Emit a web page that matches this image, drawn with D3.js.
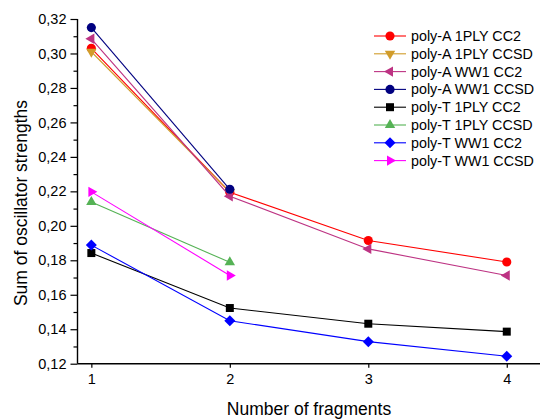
<!DOCTYPE html>
<html>
<head>
<meta charset="utf-8">
<script src="https://cdn.jsdelivr.net/npm/d3@7"></script>
<style>
  body { margin: 0; background: #fff; }
  svg { display: block; font-family: "Liberation Sans", Arial, sans-serif; }
</style>
</head>
<body>
<svg id="chart" width="543" height="419"></svg>
<script>
// Number of fragments on the x axis
const fragments = [1, 2, 3, 4];

// Series names, in drawing / legend order
const seriesNames = [
  "poly-A 1PLY CC2", "poly-A 1PLY CCSD", "poly-A WW1 CC2", "poly-A WW1 CCSD",
  "poly-T 1PLY CC2", "poly-T 1PLY CCSD", "poly-T WW1 CC2", "poly-T WW1 CCSD"
];

// Sum of oscillator strengths per series (one value per fragment count)
const polyA1plyCC2   = [0.303, 0.2195, 0.1915, 0.179];
const polyA1plyCCSD  = [0.301, 0.2195];
const polyAww1CC2    = [0.3085, 0.2172, 0.1866, 0.1712];
const polyAww1CCSD   = [0.315, 0.2212];
const polyT1plyCC2   = [0.1842, 0.1523, 0.1432, 0.1386];
const polyT1plyCCSD  = [0.2138, 0.1788];
const polyTww1CC2    = [0.1888, 0.1449, 0.1328, 0.1243];
const polyTww1CCSD   = [0.2197, 0.1712];

const seriesValues = [polyA1plyCC2, polyA1plyCCSD, polyAww1CC2, polyAww1CCSD,
                      polyT1plyCC2, polyT1plyCCSD, polyTww1CC2, polyTww1CCSD];

// Tick values and labels
const yTicks = [0.12, 0.14, 0.16, 0.18, 0.20, 0.22, 0.24, 0.26, 0.28, 0.30, 0.32];
const yTickLabels = ["0,12", "0,14", "0,16", "0,18", "0,20", "0,22", "0,24", "0,26", "0,28", "0,30", "0,32"];
const yMinorTicks = [0.13, 0.15, 0.17, 0.19, 0.21, 0.23, 0.25, 0.27, 0.29, 0.31];
const xTicks = [1, 2, 3, 4];

// Styling per series
const colors = ["#ff0000", "#d19c2a", "#bd3383", "#000080", "#000000", "#55b255", "#0000ff", "#ff00ff"];
const shapes = ["circle", "down", "left", "circle", "square", "up", "diamond", "right"];

const svg = d3.select("#chart");

const x = d3.scaleLinear().domain([0.9, 4.24]).range([77.5, 540]);
const y = d3.scaleLinear().domain([0.12, 0.32]).range([363.7, 19]);

// Marker path generator
function markerPath(shape) {
  const tri = (angleDeg) => {
    const r = 6;
    const pts = [0, 120, 240].map(a => {
      const t = (a + angleDeg - 90) * Math.PI / 180;
      return [r * Math.cos(t), r * Math.sin(t)];
    });
    return "M" + pts.map(p => p[0].toFixed(2) + "," + p[1].toFixed(2)).join("L") + "Z";
  };
  switch (shape) {
    case "circle": return d3.symbol(d3.symbolCircle, 66)();
    case "square": return "M-4,-4L4,-4L4,4L-4,4Z";
    case "diamond": return "M0,-5.5L5.5,0L0,5.5L-5.5,0Z";
    case "up": return tri(0);
    case "down": return tri(180);
    case "left": return tri(270);
    case "right": return tri(90);
  }
}

// Axes
const yAxis = d3.axisLeft(y).tickValues(yTicks)
  .tickFormat((d, i) => yTickLabels[i]).tickSize(7).tickPadding(4);
const yAxisMinor = d3.axisLeft(y).tickValues(yMinorTicks).tickFormat("").tickSize(4);
const xAxis = d3.axisBottom(x).tickValues(xTicks).tickFormat(d3.format("d")).tickSize(4).tickPadding(6);

const gy = svg.append("g").attr("transform", "translate(77.5,0)").call(yAxis);
svg.append("g").attr("transform", "translate(77.5,0)").call(yAxisMinor).select(".domain").remove();
const gx = svg.append("g").attr("transform", "translate(0,363.7)").call(xAxis);

[gy, gx].forEach(g => {
  g.select(".domain").attr("stroke", "#000").attr("stroke-width", 1.4);
  g.selectAll(".tick text").attr("fill", "#000").attr("font-size", 14.5)
    .attr("font-family", "Liberation Sans, Arial, sans-serif");
});
svg.selectAll("g .tick line").attr("stroke", "#000").attr("stroke-width", 1.2);
// straight domain lines without end caps
gy.select(".domain").attr("d", `M0,${y(0.32)}V${y(0.12)}`);
gx.select(".domain").attr("d", `M${x(0.9)},0H${x(4.24)}`);

// Series lines and markers
const line = d3.line().x(d => x(d[0])).y(d => y(d[1]));

seriesValues.forEach((vals, si) => {
  const pts = vals.map((v, i) => [fragments[i], v]);
  const g = svg.append("g");
  g.append("path").datum(pts).attr("d", line)
    .attr("fill", "none").attr("stroke", colors[si]).attr("stroke-width", 1.1);
  g.selectAll("path.m").data(pts).join("path").attr("class", "m")
    .attr("d", markerPath(shapes[si]))
    .attr("transform", d => `translate(${x(d[0])},${y(d[1])})`)
    .attr("fill", colors[si]);
});

// Legend
const legend = svg.append("g");
seriesNames.forEach((name, i) => {
  const ly = 36 + i * 17.8;
  legend.append("line").attr("x1", 374).attr("x2", 406).attr("y1", ly).attr("y2", ly)
    .attr("stroke", colors[i]).attr("stroke-width", 1.1);
  legend.append("path").attr("d", markerPath(shapes[i]))
    .attr("transform", `translate(390,${ly})`).attr("fill", colors[i]);
  legend.append("text").attr("x", 411).attr("y", ly).attr("dy", "0.35em")
    .attr("font-size", 14.3).attr("fill", "#000").text(name);
});

// Axis titles
svg.append("text").attr("x", 309).attr("y", 415).attr("text-anchor", "middle")
  .attr("font-size", 17.5).attr("fill", "#000").text("Number of fragments");
svg.append("text").attr("transform", "translate(27,203) rotate(-90)")
  .attr("text-anchor", "middle").attr("font-size", 17.5).attr("fill", "#000")
  .text("Sum of oscillator strengths");
</script>
</body>
</html>
